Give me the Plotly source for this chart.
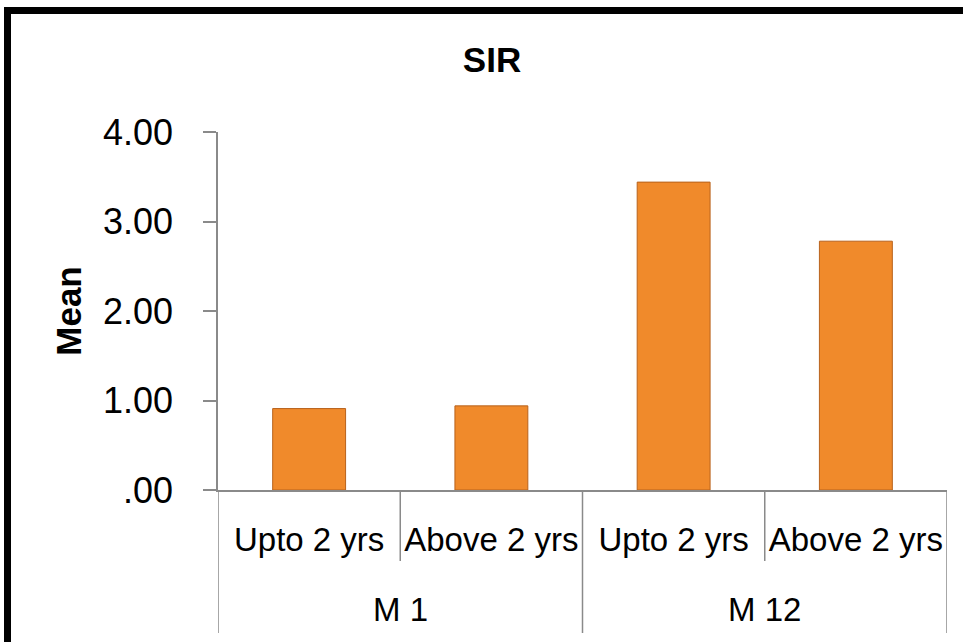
import plotly.graph_objects as go

groups = ["M 1", "M 1", "M 12", "M 12"]
subcats = ["Upto 2 yrs", "Above 2 yrs", "Upto 2 yrs", "Above 2 yrs"]
means = [0.91, 0.94, 3.44, 2.78]
y_tickvals = [0, 1, 2, 3, 4]
y_ticktext = [".00", "1.00", "2.00", "3.00", "4.00"]

FONT = "Liberation Sans"
AXIS_GREY = "#8a8a8a"

x_idx = list(range(len(subcats)))

W, H = 963, 642
L, R, T, B = 218, 16, 132, 152
pw, ph = W - L - R, H - T - B

def px(x):
    return (x - L) / pw

def py(y):
    return (H - B - y) / ph

fig = go.Figure()
fig.add_trace(go.Bar(
    x=x_idx,
    y=means,
    marker=dict(color="#F08A2B", line=dict(color="#B8621C", width=1)),
    width=0.4,
))

# category dividers (between sub-categories: short; between groups: long)
for i in range(len(subcats) + 1):
    xb = i - 0.5
    is_group_edge = (i == 0 or i == len(subcats) or groups[i - 1] != groups[i])
    y_end = 633 if is_group_edge else 561
    fig.add_shape(type="line", xref="x", yref="paper", x0=xb, x1=xb,
                  y0=0, y1=py(y_end), line=dict(color=AXIS_GREY, width=1.5))

# group labels
seen = []
for g in groups:
    if g not in seen:
        seen.append(g)
for g in seen:
    idx = [i for i, gg in enumerate(groups) if gg == g]
    fig.add_annotation(x=sum(idx) / len(idx), xref="x", y=py(609), yref="paper",
                       text=g, showarrow=False, yanchor="middle", xanchor="center",
                       font=dict(family=FONT, size=33, color="black"))

# outer border
fig.add_shape(type="rect", xref="paper", yref="paper",
              x0=px(7.5), x1=px(1000), y0=py(10.5), y1=py(700),
              line=dict(color="black", width=7), fillcolor="rgba(0,0,0,0)")

fig.update_layout(
    width=W, height=H,
    margin=dict(l=L, r=R, t=T, b=B),
    paper_bgcolor="white", plot_bgcolor="white",
    showlegend=False,
    title=dict(text="<b>SIR</b>", x=px(492), xref="paper", xanchor="center",
               y=1 - 60 / H, yanchor="middle",
               font=dict(family=FONT, size=35, color="black")),
    font=dict(family=FONT, color="black"),
)
fig.update_yaxes(
    range=[0, 4], tickvals=y_tickvals, ticktext=y_ticktext,
    showgrid=False, zeroline=False,
    showline=True, linecolor=AXIS_GREY, linewidth=1.5,
    ticks="outside", ticklen=13, tickcolor=AXIS_GREY, tickwidth=1.5,
    ticklabelstandoff=23,
    tickfont=dict(family=FONT, size=36, color="black"),
    title=dict(text="<b>Mean</b>", font=dict(family=FONT, size=35, color="black"), standoff=11),
)
fig.update_xaxes(
    range=[-0.5, len(subcats) - 0.5],
    tickvals=x_idx, ticktext=subcats,
    showgrid=False, zeroline=False,
    showline=True, linecolor=AXIS_GREY, linewidth=1.5,
    ticks="", ticklabelstandoff=20,
    tickfont=dict(family=FONT, size=33, color="black"),
)
fig.write_html("out.html", config={"displayModeBar": False},
               post_script="document.body.style.margin='0';")
